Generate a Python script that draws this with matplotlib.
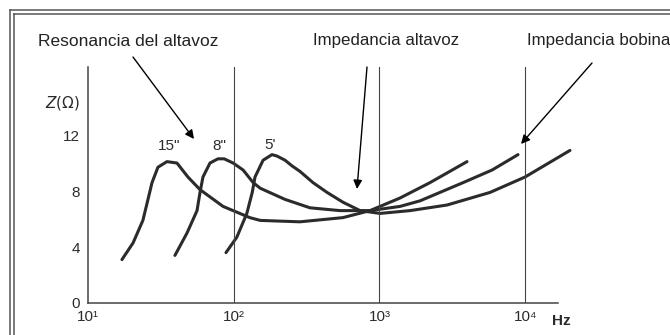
import matplotlib
matplotlib.use("Agg")
import matplotlib.pyplot as plt
from matplotlib.lines import Line2D

plt.rcParams['font.family'] = ['Liberation Sans', 'DejaVu Sans']

# impedance curves: frequency in Hz, impedance in ohm
freq_15 = [17.1, 20.4, 23.8, 25.8, 27.5, 30.2, 34.8, 40.8, 48.5, 58.7, 84.5, 129, 152,
           285, 562, 861, 1384, 2223, 3990]
z_15 = [3.1, 4.3, 5.9, 7.4, 8.6, 9.7, 10.1, 10.0, 9.0, 8.1, 6.9, 6.1, 5.9,
        5.8, 6.1, 6.6, 7.5, 8.6, 10.1]

freq_8 = [39.5, 47.8, 56, 58.7, 61.5, 68.7, 78, 86, 99, 116, 136, 152, 225, 334, 537,
          861, 1384, 1901, 3750, 5929, 8933]
z_8 = [3.4, 5.0, 6.6, 7.9, 9.0, 10.0, 10.3, 10.3, 10.0, 9.5, 8.6, 8.2, 7.4, 6.8, 6.6,
       6.6, 6.9, 7.3, 8.6, 9.5, 10.6]

freq_5 = [88.5, 105, 123, 134, 140, 159, 183, 198, 225, 251, 285, 350, 437, 562, 736,
          1009, 1622, 2911, 5741, 9977, 20300]
z_5 = [3.6, 4.7, 6.4, 7.9, 9.0, 10.2, 10.6, 10.5, 10.2, 9.8, 9.4, 8.6, 7.9, 7.2, 6.6,
       6.4, 6.6, 7.0, 7.9, 9.0, 10.9]

curve_labels = ['15"', '8"', "5'"]
label_freq = [36, 80, 177]
label_z = [11.2, 11.2, 11.3]

y_ticks = [0, 4, 8, 12]
x_ticks = [10, 100, 1000, 10000]
x_tick_labels = ['10¹', '10²', '10³', '10⁴']
grid_freqs = [100, 1000, 10000]

W, H = 670, 335
ink = '#2b2b2b'


def px(x, y):
    # pixel position (from top-left) -> figure fraction
    return x / W, 1 - y / H


fig = plt.figure(figsize=(6.7, 3.35), dpi=100)
ax = fig.add_axes([88 / W, 32 / H, 470 / W, 236 / H])

for f, z in [(freq_15, z_15), (freq_8, z_8), (freq_5, z_5)]:
    ax.plot(f, z, color=ink, lw=2.2, solid_joinstyle='round', solid_capstyle='round',
            clip_on=False)

for g in grid_freqs:
    ax.axvline(g, color='#444444', lw=0.8)

for lab, f, z in zip(curve_labels, label_freq, label_z):
    ax.text(f, z, lab, ha='center', va='center', fontsize=11, color=ink)

ax.set_xscale('log')
ax.set_xlim(10, 16800)
ax.set_ylim(0, 16.86)
ax.set_xticks(x_ticks)
ax.set_xticklabels(x_tick_labels)
ax.minorticks_off()
ax.set_yticks(y_ticks)
ax.tick_params(length=0, labelsize=11, colors=ink)
ax.tick_params(axis='y', pad=6)
ax.tick_params(axis='x', pad=5)
for s in ['top', 'right']:
    ax.spines[s].set_visible(False)
for s in ['left', 'bottom']:
    ax.spines[s].set_color('#444444')
    ax.spines[s].set_linewidth(1.1)

fig.text(*px(80, 103), r'$Z(\Omega)$', ha='right', va='center', fontsize=11, color=ink)
fig.text(*px(552, 321), 'Hz', ha='left', va='center', fontsize=11, color=ink, fontweight='bold')

# annotations with arrows
fig.text(*px(38, 41), 'Resonancia del altavoz', ha='left', va='center', fontsize=12.5, color='#222222')
fig.text(*px(313, 41), 'Impedancia altavoz', ha='left', va='center', fontsize=12.2, color='#222222')
fig.text(*px(527, 41), 'Impedancia bobina', ha='left', va='center', fontsize=12.2, color='#222222')

arrows = [((133, 57), (194, 139)), ((367, 67), (357, 189)), ((592, 63), (521, 144))]
for start, end in arrows:
    ax.annotate('', xy=px(*end), xytext=px(*start), xycoords='figure fraction',
                textcoords='figure fraction', annotation_clip=False,
                arrowprops=dict(arrowstyle='-|>', mutation_scale=13, lw=1.0,
                                color='black', shrinkA=0, shrinkB=0))

# double frame of the scanned figure
for off in [10, 14]:
    fig.add_artist(Line2D([off / W, off / W], [0, 1 - off / H], color='#555555', lw=1.1))
    fig.add_artist(Line2D([off / W, 1], [1 - off / H, 1 - off / H], color='#555555', lw=1.1))

fig.savefig('out.png', dpi=100)
